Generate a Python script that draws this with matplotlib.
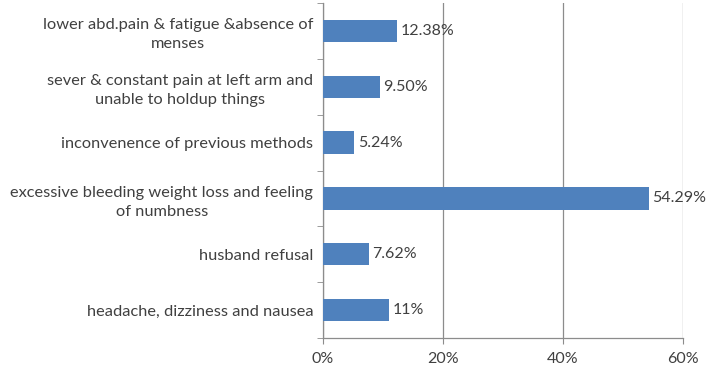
import numpy as np
import matplotlib.pyplot as plt
from matplotlib.ticker import FixedLocator, FuncFormatter

labels = ['lower abd.pain & fatigue &absence of\nmenses',
          'sever & constant pain at left arm and\nunable to holdup things',
          'inconvenence of previous methods',
          'excessive bleeding weight loss and feeling\nof numbness',
          'husband refusal',
          'headache, dizziness and nausea']
values = [12.38, 9.50, 5.24, 54.29, 7.62, 11]
value_text = ['12.38%', '9.50%', '5.24%', '54.29%', '7.62%', '11%']
x_ticks = [0, 20, 40, 60]

plt.rcParams['font.family'] = ['Lato', 'DejaVu Sans']

fig = plt.figure(figsize=(7.08, 3.70), dpi=100)
ax = fig.add_axes([323 / 708, 1 - 338 / 370, 360 / 708, 335 / 370])

y = np.arange(len(labels))[::-1]
ax.barh(y, values, height=0.4, color='#4F81BD', zorder=3)

for yi, v, t in zip(y, values, value_text):
    ax.annotate(t, (v, yi), xytext=(2.5, 0), textcoords='offset points',
                va='center', ha='left', fontsize=11.5, color='#404040', zorder=4)

ax.set_xlim(0, 60)
ax.set_ylim(-0.5, len(labels) - 0.5)

ax.set_xticks(x_ticks)
ax.xaxis.set_major_formatter(FuncFormatter(lambda v, p: '%d%%' % v))
ax.grid(axis='x', color='#8C8C8C', linewidth=0.9, zorder=0)

ax.set_yticks(y)
ax.set_yticklabels(labels, fontsize=11.8, color='#404040',
                   multialignment='center', linespacing=1.45)
ax.yaxis.set_minor_locator(FixedLocator(np.arange(-0.5, len(labels), 1)))
ax.tick_params(axis='y', which='major', length=0, pad=7)
ax.tick_params(axis='y', which='minor', length=4, color='#8C8C8C', direction='out')
ax.tick_params(axis='x', length=4, color='#8C8C8C', direction='out',
               labelsize=11.5, labelcolor='#404040', pad=6)

for s in ['top', 'right']:
    ax.spines[s].set_visible(False)
for s in ['left', 'bottom']:
    ax.spines[s].set_color('#8C8C8C')
    ax.spines[s].set_linewidth(0.9)

fig.savefig('out.png', dpi=100)
